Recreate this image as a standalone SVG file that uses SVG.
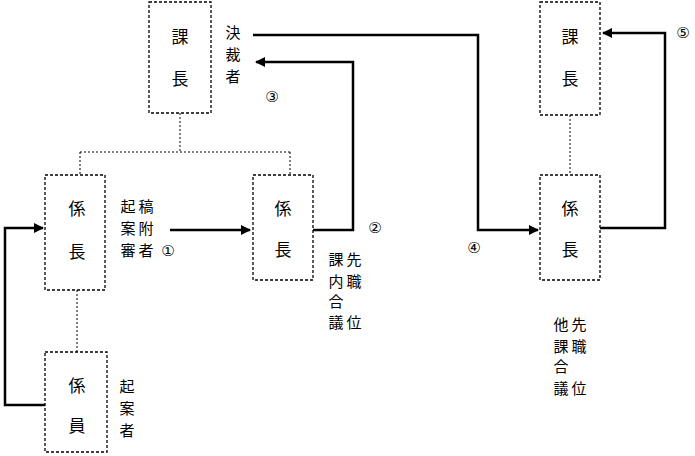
<svg xmlns="http://www.w3.org/2000/svg" width="695" height="456" viewBox="0 0 695 456">
<style>
.b{fill:#fff;stroke:#000;stroke-width:1.3;stroke-dasharray:3 2}
.t{font-family:"Noto Sans CJK JP",sans-serif;font-size:17px;text-anchor:middle;fill:#000}
.s{font-family:"Noto Sans CJK JP",sans-serif;font-size:15px;text-anchor:middle;fill:#000}
.c{font-family:"DejaVu Sans",sans-serif;font-size:15px;text-anchor:middle;fill:#000}
.l{fill:none;stroke:#000;stroke-width:2.5}
.d{fill:none;stroke:#000;stroke-width:1;stroke-dasharray:2 2}
</style>
<defs><marker id="a" viewBox="0 0 10 10" refX="9" refY="5" markerWidth="4" markerHeight="4" orient="auto"><path d="M0 0L10 5L0 10z"/></marker></defs>
<g id="connectors">
<path class="d" d="M180 113V152M80 152H290M80 152V175M290 152V175M77 290V352M570 115V175"/>
<path class="l" d="M45 405H5V228H43" marker-end="url(#a)"/>
<path class="l" d="M170 230H250" marker-end="url(#a)"/>
<path class="l" d="M313 230H353V62H256" marker-end="url(#a)"/>
<path class="l" d="M253 35H478V230H538" marker-end="url(#a)"/>
<path class="l" d="M600 228H665V33H603" marker-end="url(#a)"/>
</g>
<g id="kacho1"><rect class="b" x="149" y="2" width="62" height="111"/><text class="t" x="180" y="43">課</text><text class="t" x="180" y="85">長</text>
<text class="s" x="233" y="38">決</text><text class="s" x="233" y="60">裁</text><text class="s" x="233" y="82">者</text><text class="c" x="272" y="102">③</text></g>
<g id="kakaricho1"><rect class="b" x="45" y="175" width="60" height="115"/><text class="t" x="77" y="215">係</text><text class="t" x="77" y="258">長</text>
<text class="s" x="128" y="212">起</text><text class="s" x="146" y="212">稿</text><text class="s" x="128" y="234">案</text><text class="s" x="146" y="234">附</text><text class="s" x="128" y="256">審</text><text class="s" x="146" y="256">者</text><text class="c" x="168" y="256">①</text></g>
<g id="kakaricho2"><rect class="b" x="253" y="175" width="60" height="105"/><text class="t" x="283" y="215">係</text><text class="t" x="283" y="256">長</text>
<text class="c" x="375" y="233">②</text>
<text class="s" x="336" y="265">課</text><text class="s" x="354" y="265">先</text><text class="s" x="336" y="287">内</text><text class="s" x="354" y="287">職</text><text class="s" x="336" y="307">合</text><text class="s" x="336" y="328">議</text><text class="s" x="354" y="328">位</text></g>
<g id="kakariin"><rect class="b" x="45" y="352" width="62" height="100"/><text class="t" x="77" y="392">係</text><text class="t" x="77" y="432">員</text>
<text class="s" x="127" y="392">起</text><text class="s" x="127" y="414">案</text><text class="s" x="127" y="436">者</text></g>
<g id="kacho2"><rect class="b" x="540" y="2" width="60" height="113"/><text class="t" x="570" y="43">課</text><text class="t" x="570" y="85">長</text><text class="c" x="683" y="38">⑤</text></g>
<g id="kakaricho3"><rect class="b" x="540" y="175" width="60" height="105"/><text class="t" x="570" y="215">係</text><text class="t" x="570" y="256">長</text><text class="c" x="474" y="253">④</text>
<text class="s" x="561" y="330">他</text><text class="s" x="579" y="330">先</text><text class="s" x="561" y="352">課</text><text class="s" x="579" y="352">職</text><text class="s" x="561" y="372">合</text><text class="s" x="561" y="394">議</text><text class="s" x="579" y="394">位</text></g>
</svg>
